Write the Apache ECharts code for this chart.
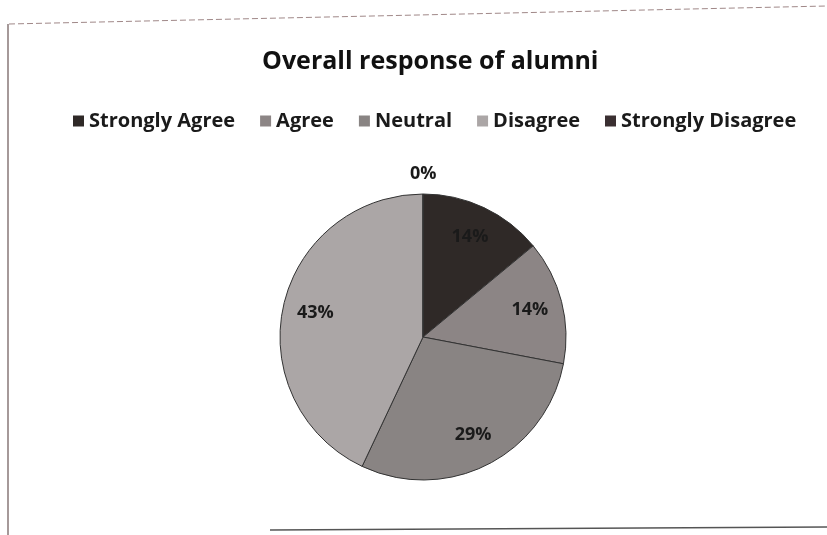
<!DOCTYPE html>
<html>
<head>
<meta charset="utf-8">
<script src="https://cdn.jsdelivr.net/npm/echarts@6/dist/echarts.min.js"></script>
<style>html,body{margin:0;padding:0;background:#fff;}#c{width:827px;height:535px;}</style>
</head>
<body>
<div id="c"></div>
<script>
const categories = ['Strongly Agree', 'Agree', 'Neutral', 'Disagree', 'Strongly Disagree'];
const values = [14, 14, 29, 43, 0];
const colors = ['#2f2927', '#8c8585', '#898483', '#aba6a6', '#3a2f31'];
const titleText = 'Overall response of alumni';

const FONT = '"Open Sans", "DejaVu Sans", sans-serif';
const chart = echarts.init(document.getElementById('c'));
const R = 143;
const C = [423, 337];

const mainData = categories.map((n, i) => ({
  name: n,
  value: values[i],
  itemStyle: { color: colors[i] },
  label: values[i] === 0 ? { show: true } : { show: false }
}));
const labelData = categories.map((n, i) => ({ name: n, value: values[i] }));

chart.setOption({
  backgroundColor: '#fff',
  animation: false,
  title: {
    text: titleText,
    left: 257,
    top: 44,
    textStyle: { fontFamily: FONT, fontWeight: 'bold', fontSize: 25, color: '#111' }
  },
  legend: {
    data: categories,
    top: 106,
    left: 68,
    icon: 'rect',
    itemWidth: 11,
    itemHeight: 11,
    itemGap: 25,
    itemStyle: { borderWidth: 0 },
    textStyle: { fontFamily: FONT, fontWeight: 'bold', fontSize: 20, color: '#1a1a1a' }
  },
  graphic: [
    { type: 'line', shape: { x1: 8, y1: 24, x2: 8, y2: 535 }, style: { stroke: '#6a5555', lineWidth: 1.2 } },
    { type: 'line', shape: { x1: 9, y1: 24, x2: 827, y2: 6 }, style: { stroke: '#a08888', lineWidth: 1, lineDash: [6, 3] } },
    { type: 'line', shape: { x1: 270, y1: 530, x2: 827, y2: 527 }, style: { stroke: '#555', lineWidth: 1.5 } }
  ],
  series: [
    {
      type: 'pie',
      radius: R,
      center: C,
      startAngle: 90,
      clockwise: true,
      avoidLabelOverlap: false,
      silent: true,
      itemStyle: { borderColor: '#333', borderWidth: 1 },
      label: {
        position: 'outside',
        formatter: '{d}%',
        offset: [-18, 0],
        fontFamily: FONT, fontWeight: 'bold', fontSize: 18, color: '#1a1a1a'
      },
      labelLine: { show: false, length: 20, length2: 0 },
      data: mainData
    },
    {
      type: 'pie',
      radius: [R / 2, R],
      center: C,
      startAngle: 90,
      clockwise: true,
      avoidLabelOverlap: false,
      silent: true,
      legendHoverLink: false,
      itemStyle: { color: 'rgba(0,0,0,0)', borderWidth: 0 },
      label: {
        position: 'inside',
        formatter: p => p.value === 0 ? '' : p.percent + '%',
        fontFamily: FONT, fontWeight: 'bold', fontSize: 18, color: '#1a1a1a'
      },
      labelLine: { show: false },
      data: labelData
    }
  ]
});
</script>
</body>
</html>
